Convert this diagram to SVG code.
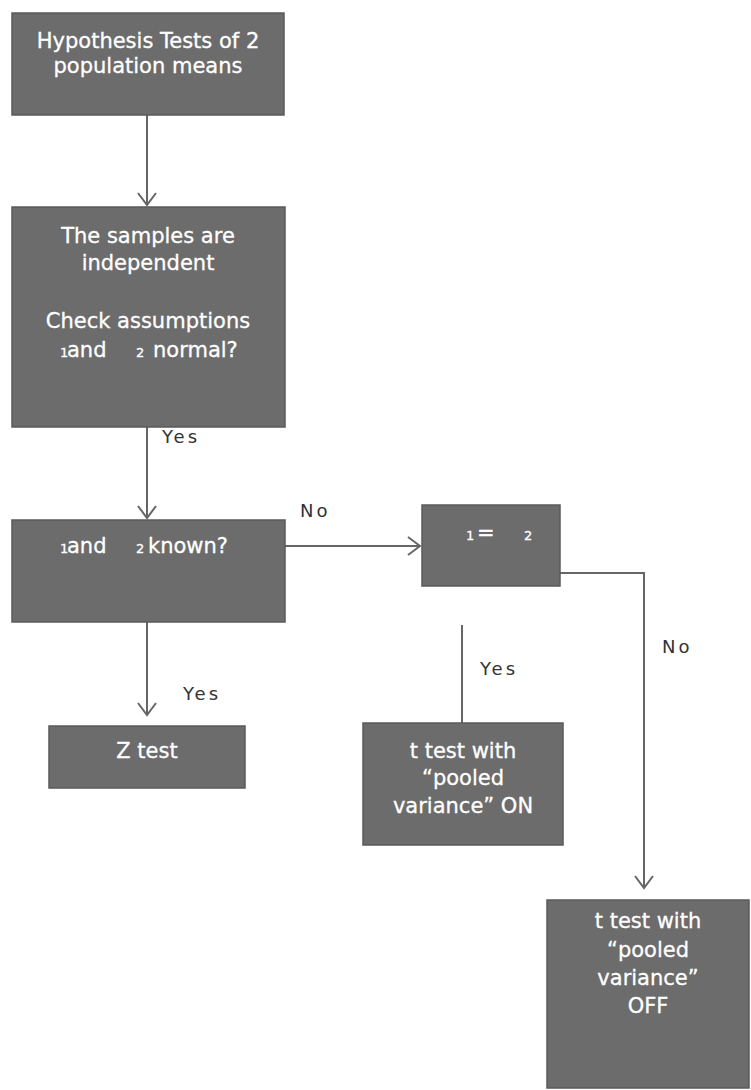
<svg xmlns="http://www.w3.org/2000/svg" width="751" height="1090" viewBox="0 0 751 1090">
<defs>
<style>
.box{fill:#6c6c6c;stroke:#5a5a5a;stroke-width:1.5}
.nt{fill:#ffffff;stroke:#ffffff;stroke-width:0.3;font-family:"DejaVu Sans",sans-serif;font-size:21px;text-anchor:middle}
.ns{fill:#ffffff;stroke:#ffffff;stroke-width:0.3;font-family:"DejaVu Sans",sans-serif;font-size:21px}
.sub{font-size:13px}
.lbl{fill:#333333;font-family:"DejaVu Sans",sans-serif;font-size:18px;letter-spacing:3px}
.ln{stroke:#666666;stroke-width:2;fill:none}
</style>
<marker id="arr" viewBox="0 0 20 20" refX="18" refY="10" markerWidth="20" markerHeight="20" markerUnits="userSpaceOnUse" orient="auto">
<path d="M6,1 L18,10 L6,19" fill="none" stroke="#666666" stroke-width="2"/>
</marker>
</defs>
<rect width="751" height="1090" fill="#ffffff"/>
<g id="connectors">
<path class="ln" d="M147,115 V205" marker-end="url(#arr)"/>
<path class="ln" d="M147,427 V518" marker-end="url(#arr)"/>
<path class="ln" d="M285,546 H420" marker-end="url(#arr)"/>
<path class="ln" d="M147,622 V715" marker-end="url(#arr)"/>
<path class="ln" d="M462,625 V723"/>
<path class="ln" d="M560,573 H644 V888" marker-end="url(#arr)"/>
<text class="lbl" x="162" y="443">Yes</text>
<text class="lbl" x="300" y="517">No</text>
<text class="lbl" x="183" y="700">Yes</text>
<text class="lbl" x="480" y="675">Yes</text>
<text class="lbl" x="662" y="653">No</text>
</g>
<g id="n1">
<rect class="box" x="12" y="13" width="272" height="102"/>
<text class="nt" x="148" y="48">Hypothesis Tests of 2</text>
<text class="nt" x="148" y="73">population means</text>
</g>
<g id="n2">
<rect class="box" x="12" y="207" width="273" height="220"/>
<text class="nt" x="148" y="243">The samples are</text>
<text class="nt" x="148" y="270">independent</text>
<text class="nt" x="148" y="328">Check assumptions</text>
<text class="ns" y="357"><tspan class="sub" x="60">1</tspan><tspan x="67">and</tspan><tspan class="sub" x="136">2</tspan><tspan x="153">normal?</tspan></text>
</g>
<g id="n3">
<rect class="box" x="12" y="520" width="273" height="102"/>
<text class="ns" y="553"><tspan class="sub" x="60">1</tspan><tspan x="67">and</tspan><tspan class="sub" x="136">2</tspan><tspan x="148">known?</tspan></text>
</g>
<g id="n4">
<rect class="box" x="422" y="505" width="138" height="81"/>
<text class="ns" y="540"><tspan class="sub" x="466">1</tspan><tspan x="477">=</tspan><tspan class="sub" x="524">2</tspan></text>
</g>
<g id="n5">
<rect class="box" x="49" y="726" width="196" height="62"/>
<text class="nt" x="147" y="758">Z test</text>
</g>
<g id="n6">
<rect class="box" x="363" y="723" width="200" height="122"/>
<text class="nt" x="463" y="758">t test with</text>
<text class="nt" x="463" y="785">“pooled</text>
<text class="nt" x="463" y="813">variance” ON</text>
</g>
<g id="n7">
<rect class="box" x="547" y="900" width="202" height="188"/>
<text class="nt" x="648" y="928">t test with</text>
<text class="nt" x="648" y="957">“pooled</text>
<text class="nt" x="648" y="985">variance”</text>
<text class="nt" x="648" y="1013">OFF</text>
</g>
</svg>
